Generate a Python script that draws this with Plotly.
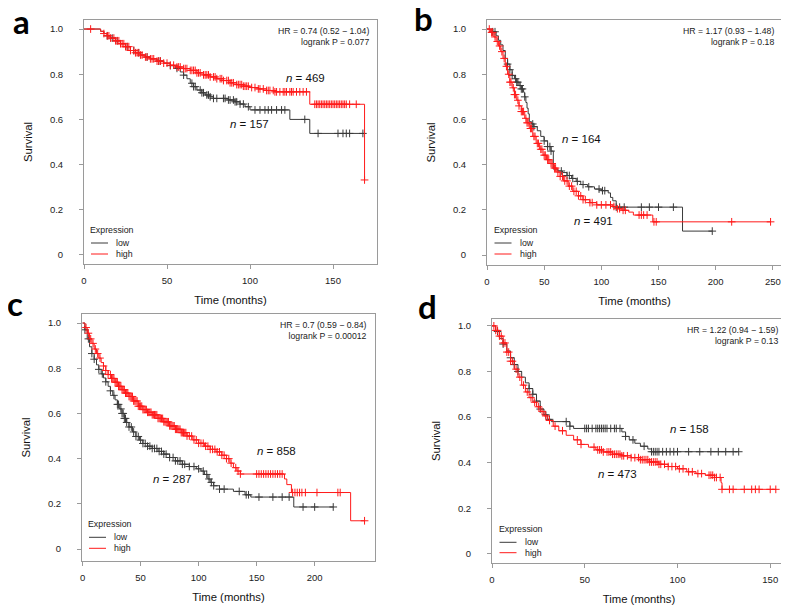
import plotly.graph_objects as go

# The page body has an 8px margin, so the figure is drawn 8px in from the window edge.
OFF = 8
W, H = 789 - OFF, 612 - OFF

# ---------------- data ----------------
# Panel a
a_low_t = [0, 10, 12, 14, 16, 19, 22, 25, 28, 31, 34, 37, 40, 44, 48, 52, 55, 58, 60, 62, 64, 66, 68, 71, 73, 76, 78, 87, 91, 94, 97, 100, 124, 136, 169]
a_low_s = [1.0, 0.99, 0.98, 0.97, 0.96, 0.948, 0.935, 0.922, 0.905, 0.895, 0.885, 0.876, 0.868, 0.858, 0.849, 0.838, 0.826, 0.81, 0.796, 0.78, 0.76, 0.745, 0.73, 0.718, 0.708, 0.70, 0.693, 0.686, 0.678, 0.668, 0.656, 0.642, 0.60, 0.538, 0.538]
a_high_t = [0, 10, 12, 14, 16, 19, 22, 25, 28, 31, 34, 37, 40, 44, 48, 52, 56, 60, 64, 68, 72, 76, 80, 84, 88, 92, 96, 100, 105, 110, 115, 136, 169]
a_high_s = [1.0, 0.99, 0.98, 0.97, 0.96, 0.948, 0.935, 0.922, 0.905, 0.895, 0.885, 0.876, 0.868, 0.858, 0.849, 0.840, 0.832, 0.825, 0.817, 0.806, 0.797, 0.788, 0.78, 0.772, 0.762, 0.754, 0.747, 0.741, 0.735, 0.728, 0.722, 0.667, 0.332]
a_low_cens = [14, 17, 20, 26, 30, 33, 38, 45, 46, 52, 56, 60, 65, 66, 67, 70, 71, 72, 74, 75, 76, 78, 80, 84, 85, 87, 88, 90, 91, 92, 94, 96, 99, 103, 106, 109, 111, 113, 116, 119, 121, 133, 141, 153, 156, 158, 160, 168]
a_high_cens = [4, 12, 14, 15, 16, 18, 19, 20, 21, 22, 23, 24, 25, 26, 27, 28, 30, 31, 32, 33, 34, 35, 37, 38, 40, 41, 42, 44, 45, 46, 48, 50, 52, 54, 56, 57, 58, 60, 61, 62, 64, 65, 66, 67, 68, 69, 70, 72, 73, 74, 75, 76, 78, 79, 80, 82, 83, 84, 86, 87, 88, 89, 90, 92, 93, 94, 95, 96, 97, 98, 99, 101, 103, 105, 106, 108, 110, 111, 112, 114, 115, 116, 118, 120, 121, 122, 124, 125, 126, 128, 130, 132, 134, 139, 140, 141, 142, 143, 144, 145, 146, 147, 148, 149, 150, 151, 152, 153, 154, 155, 156, 157, 158, 160, 164, 169]

# Panel b
b_low_t = [0, 5, 8, 10, 12, 14, 16, 18, 20, 22, 24, 26, 28, 30, 32, 33, 34, 35, 36, 37, 39, 41, 44, 47, 50, 53, 56, 58, 62, 66, 70, 74, 78, 82, 88, 94, 100, 106, 108, 110, 113, 171, 197]
b_low_s = [1.0, 0.988, 0.97, 0.95, 0.93, 0.905, 0.87, 0.845, 0.82, 0.795, 0.78, 0.765, 0.75, 0.735, 0.72, 0.70, 0.675, 0.65, 0.625, 0.59, 0.58, 0.568, 0.55, 0.525, 0.505, 0.48, 0.46, 0.38, 0.372, 0.365, 0.352, 0.339, 0.326, 0.312, 0.302, 0.292, 0.285, 0.275, 0.255, 0.24, 0.212, 0.106, 0.106]
b_high_t = [0, 3, 6, 8, 10, 12, 14, 16, 18, 20, 22, 24, 26, 28, 30, 33, 35, 37, 40, 43, 46, 49, 52, 55, 58, 61, 64, 67, 71, 75, 80, 84, 90, 96, 110, 113, 118, 124, 128, 145, 248]
b_high_s = [1.0, 0.985, 0.965, 0.945, 0.925, 0.90, 0.87, 0.835, 0.80, 0.765, 0.74, 0.71, 0.685, 0.66, 0.635, 0.605, 0.585, 0.56, 0.525, 0.494, 0.468, 0.442, 0.422, 0.405, 0.385, 0.367, 0.348, 0.328, 0.305, 0.282, 0.262, 0.245, 0.232, 0.222, 0.215, 0.205, 0.198, 0.19, 0.177, 0.147, 0.147]
b_low_cens = [5, 7, 18, 20, 22, 25, 26, 27, 29, 30, 31, 33, 40, 41, 50, 53, 55, 56, 65, 70, 72, 75, 79, 84, 89, 98, 101, 103, 113, 116, 120, 135, 142, 150, 163, 197]
b_high_cens = [2, 4, 5, 7, 9, 11, 13, 15, 17, 19, 20, 21, 23, 24, 25, 27, 28, 30, 31, 32, 34, 35, 36, 38, 39, 41, 42, 44, 45, 47, 48, 50, 51, 53, 54, 56, 57, 59, 60, 62, 64, 66, 68, 70, 72, 74, 76, 78, 80, 82, 84, 86, 90, 92, 96, 100, 104, 108, 111, 114, 116, 119, 121, 133, 135, 137, 140, 146, 148, 214, 248]

# Panel c
c_low_t = [0, 2, 4, 6, 8, 10, 12, 14, 16, 18, 20, 22, 24, 26, 28, 30, 32, 34, 36, 38, 40, 43, 46, 49, 52, 56, 60, 65, 70, 75, 80, 86, 92, 98, 102, 105, 108, 110, 113, 118, 130, 140, 145, 182, 216]
c_low_s = [1.0, 0.97, 0.93, 0.895, 0.865, 0.84, 0.815, 0.795, 0.775, 0.757, 0.74, 0.72, 0.70, 0.68, 0.66, 0.64, 0.62, 0.60, 0.578, 0.56, 0.54, 0.518, 0.498, 0.482, 0.467, 0.455, 0.445, 0.432, 0.42, 0.405, 0.39, 0.375, 0.365, 0.355, 0.345, 0.33, 0.31, 0.295, 0.28, 0.265, 0.255, 0.24, 0.23, 0.186, 0.186]
c_high_t = [0, 2, 4, 6, 8, 10, 12, 14, 16, 18, 20, 22, 25, 28, 31, 34, 37, 40, 44, 48, 52, 56, 60, 65, 70, 75, 80, 85, 90, 95, 100, 105, 110, 115, 120, 124, 127, 130, 133, 136, 174, 176, 180, 231, 243]
c_high_s = [1.0, 0.98, 0.955, 0.93, 0.91, 0.885, 0.865, 0.845, 0.825, 0.81, 0.79, 0.772, 0.755, 0.738, 0.72, 0.705, 0.69, 0.675, 0.655, 0.632, 0.617, 0.605, 0.594, 0.578, 0.563, 0.545, 0.53, 0.515, 0.5, 0.483, 0.468, 0.455, 0.441, 0.43, 0.415, 0.40, 0.38, 0.36, 0.345, 0.332, 0.31, 0.285, 0.25, 0.125, 0.125]
c_low_cens = [2, 5, 8, 10, 14, 17, 20, 24, 27, 30, 31, 33, 34, 35, 36, 37, 38, 40, 42, 44, 46, 48, 50, 52, 54, 56, 58, 60, 62, 64, 66, 68, 70, 72, 75, 78, 80, 82, 84, 86, 88, 92, 96, 100, 104, 107, 109, 111, 113, 118, 122, 135, 141, 143, 152, 164, 172, 178, 190, 200, 216]
c_high_cens = [3, 5, 7, 9, 11, 13, 15, 18, 20, 22, 24, 25, 26, 27, 28, 29, 30, 31, 32, 33, 34, 35, 36, 37, 38, 39, 40, 41, 42, 43, 44, 45, 46, 47, 48, 49, 50, 51, 52, 53, 54, 55, 56, 57, 58, 59, 60, 61, 62, 63, 64, 65, 66, 67, 68, 69, 70, 71, 72, 73, 74, 75, 76, 77, 78, 79, 80, 81, 82, 83, 84, 85, 86, 87, 88, 89, 90, 92, 94, 96, 98, 100, 102, 104, 106, 108, 110, 112, 114, 116, 118, 120, 122, 124, 126, 128, 132, 134, 136, 150, 152, 154, 156, 158, 160, 162, 164, 166, 168, 170, 172, 181, 183, 185, 187, 189, 192, 202, 220, 222, 243]

# Panel d
d_low_t = [0, 2, 4, 6, 8, 10, 12, 14, 16, 18, 20, 22, 24, 26, 28, 30, 32, 42, 44, 70, 72, 74, 77, 80, 84, 86, 133]
d_low_s = [1.0, 0.975, 0.945, 0.92, 0.89, 0.86, 0.83, 0.80, 0.775, 0.75, 0.725, 0.70, 0.67, 0.635, 0.61, 0.59, 0.58, 0.56, 0.55, 0.535, 0.515, 0.50, 0.485, 0.472, 0.46, 0.448, 0.448]
d_high_t = [0, 2, 4, 6, 8, 10, 12, 14, 16, 18, 20, 22, 24, 26, 28, 30, 33, 36, 40, 44, 48, 52, 56, 60, 65, 70, 75, 80, 85, 90, 95, 100, 105, 110, 115, 120, 123.5, 124, 153]
d_high_s = [1.0, 0.98, 0.955, 0.925, 0.885, 0.845, 0.81, 0.775, 0.74, 0.71, 0.685, 0.665, 0.645, 0.625, 0.605, 0.585, 0.56, 0.54, 0.52, 0.50, 0.48, 0.468, 0.456, 0.447, 0.437, 0.43, 0.422, 0.413, 0.403, 0.393, 0.383, 0.373, 0.36, 0.352, 0.345, 0.335, 0.312, 0.283, 0.283]
d_low_cens = [3, 6, 10, 12, 14, 20, 22, 24, 26, 29, 31, 40, 42, 50, 51, 52, 54, 56, 57, 58, 59, 60, 61, 62, 64, 66, 67, 69, 72, 76, 82, 86, 87, 88, 89, 90, 92, 94, 96, 98, 100, 106, 112, 118, 122, 126, 130, 133]
d_high_cens = [1, 2, 3, 4, 5, 6, 7, 8, 9, 10, 11, 13, 15, 17, 19, 21, 23, 25, 27, 29, 31, 34, 38, 46, 48, 55, 57, 58, 59, 60, 62, 63, 64, 65, 66, 67, 68, 69, 70, 71, 73, 75, 77, 79, 80, 81, 82, 83, 84, 85, 86, 87, 88, 89, 90, 91, 93, 95, 97, 99, 101, 103, 106, 108, 111, 113, 117, 118, 119, 120, 121, 123, 124, 128, 130, 136, 140, 142, 144, 150, 153]

panel_letters = ["a", "b", "c", "d"]
hr_texts = ["HR = 0.74 (0.52 \u2212 1.04)", "HR = 1.17 (0.93 \u2212 1.48)", "HR = 0.7 (0.59 \u2212 0.84)", "HR = 1.22 (0.94 \u2212 1.59)"]
p_texts = ["logrank P = 0.077", "logrank P = 0.18", "logrank P = 0.00012", "logrank P = 0.13"]
n_low = [157, 164, 287, 158]
n_high = [469, 491, 858, 473]
x_ticks = [[0, 50, 100, 150], [0, 50, 100, 150, 200, 250], [0, 50, 100, 150, 200], [0, 50, 100, 150]]
y_ticks = [0, 0.2, 0.4, 0.6, 0.8, 1.0]
y_ticklabels = ["0", "0.2", "0.4", "0.6", "0.8", "1.0"]
series_names = ["low", "high"]

# ---------------- layout geometry (reference window pixels) ----------------
LOW_C = "#3a3a3a"
HIGH_C = "#ff1a1a"
BOX_C = "#9a9a9a"

panels = [
    dict(box=(84, 377, 20, 264), xr=[0, 176.5], yr=[-0.04, 1.04],
         nlow=(249, 123.5), nhigh=(305, 78.3), leg=(88, 230, 243, 254), letter=(21, 21)),
    dict(box=(487, 782, 20, 265), xr=[0, 258], yr=[-0.044, 1.04],
         nlow=(581, 139), nhigh=(593, 221.5), leg=(491.5, 230, 243, 254), letter=(423, 18)),
    dict(box=(82, 375, 314, 561), xr=[-0.5, 252], yr=[-0.053, 1.04],
         nlow=(172, 479), nhigh=(276, 451), leg=(86, 524, 537.3, 548.3), letter=(15, 303)),
    dict(box=(492, 786, 319, 563), xr=[0, 158.5], yr=[-0.04, 1.03],
         nlow=(689.5, 429), nhigh=(617, 473.5), leg=(496.5, 528.7, 542.3, 552.7), letter=(427, 306)),
]
curves = [
    (a_low_t, a_low_s, a_low_cens, a_high_t, a_high_s, a_high_cens),
    (b_low_t, b_low_s, b_low_cens, b_high_t, b_high_s, b_high_cens),
    (c_low_t, c_low_s, c_low_cens, c_high_t, c_high_s, c_high_cens),
    (d_low_t, d_low_s, d_low_cens, d_high_t, d_high_s, d_high_cens),
]


def px_x(px):
    return (px - OFF) / W


def px_y(py):
    return 1 - (py - OFF) / H


def step_at(ts, ss, t):
    v = ss[0]
    for ti, si in zip(ts, ss):
        if ti <= t:
            v = si
        else:
            break
    return v


fig = go.Figure()
annotations = []
shapes = []
FONT = "Arial, Liberation Sans, sans-serif"

for i, (p, cv) in enumerate(zip(panels, curves)):
    sfx = "" if i == 0 else str(i + 1)
    xa, ya = "x" + sfx, "y" + sfx
    lt, ls, lc, ht, hs, hc = cv
    for (ts, ss, cs, col, name) in [(lt, ls, lc, LOW_C, series_names[0]), (ht, hs, hc, HIGH_C, series_names[1])]:
        fig.add_trace(go.Scatter(x=ts, y=ss, mode="lines", line=dict(color=col, width=1, shape="hv"),
                                 name=name, showlegend=False, xaxis=xa, yaxis=ya, hoverinfo="skip"))
        fig.add_trace(go.Scatter(x=cs, y=[step_at(ts, ss, c) for c in cs], mode="markers",
                                 marker=dict(symbol="cross-thin", size=5.5, line=dict(color=col, width=1), color=col),
                                 name=name + " censored", showlegend=False, xaxis=xa, yaxis=ya, hoverinfo="skip"))
    l, r, t, b = p["box"]
    common = dict(showline=True, mirror=True, linecolor=BOX_C, linewidth=1, ticks="outside", ticklen=4,
                  tickcolor=BOX_C, showgrid=False, zeroline=False, automargin=False,
                  tickfont=dict(family=FONT, size=9.5, color="#222"))
    fig.layout["xaxis" + sfx] = dict(domain=[px_x(l), px_x(r)], range=p["xr"], anchor=ya,
                                     tickvals=x_ticks[i], ticktext=[str(v) for v in x_ticks[i]],
                                     ticklabelstandoff=4,
                                     title=dict(text="Time (months)", font=dict(family=FONT, size=11.3, color="#111"), standoff=10),
                                     **common)
    fig.layout["yaxis" + sfx] = dict(domain=[px_y(b), px_y(t)], range=p["yr"], anchor=xa,
                                     tickvals=y_ticks, ticktext=y_ticklabels, ticklabelstandoff=14,
                                     title=dict(text="Survival", font=dict(family=FONT, size=11.3, color="#111"), standoff=14),
                                     **common)
    # HR / logrank text
    annotations.append(dict(x=px_x(r - 6), y=px_y(t + 4), xref="paper", yref="paper", xanchor="right", yanchor="top",
                            align="right", showarrow=False, text=hr_texts[i] + "<br>" + p_texts[i],
                            font=dict(family=FONT, size=8.7, color="#222")))
    # n labels
    for (cx, cy), n in [(p["nlow"], n_low[i]), (p["nhigh"], n_high[i])]:
        annotations.append(dict(x=px_x(cx), y=px_y(cy), xref="paper", yref="paper", xanchor="center", yanchor="middle",
                                showarrow=False, text="<i>n</i> = %d" % n, font=dict(family=FONT, size=11.5, color="#111")))
    # legend
    lx, ly0, ly1, ly2 = p["leg"]
    annotations.append(dict(x=px_x(lx), y=px_y(ly0), xref="paper", yref="paper", xanchor="left", yanchor="middle",
                            showarrow=False, text="Expression", font=dict(family=FONT, size=8.8, color="#222")))
    for yy, col, name in [(ly1, LOW_C, series_names[0]), (ly2, HIGH_C, series_names[1])]:
        shapes.append(dict(type="line", xref="paper", yref="paper", x0=px_x(lx + 3), x1=px_x(lx + 20),
                           y0=px_y(yy), y1=px_y(yy), line=dict(color=col, width=1)))
        annotations.append(dict(x=px_x(lx + 26), y=px_y(yy), xref="paper", yref="paper", xanchor="left", yanchor="middle",
                                showarrow=False, text=name, font=dict(family=FONT, size=8.8, color="#222")))
    # panel letter
    lxx, lyy = p["letter"]
    annotations.append(dict(x=px_x(lxx), y=px_y(lyy), xref="paper", yref="paper", xanchor="center", yanchor="middle",
                            showarrow=False, text="<b>%s</b>" % panel_letters[i],
                            font=dict(family="Lato, Open Sans, sans-serif", size=33, color="#000")))

fig.update_layout(width=W, height=H, margin=dict(l=0, r=0, t=0, b=0), plot_bgcolor="white", paper_bgcolor="white",
                  annotations=annotations, shapes=shapes, showlegend=False)
fig.write_html("out.html")
